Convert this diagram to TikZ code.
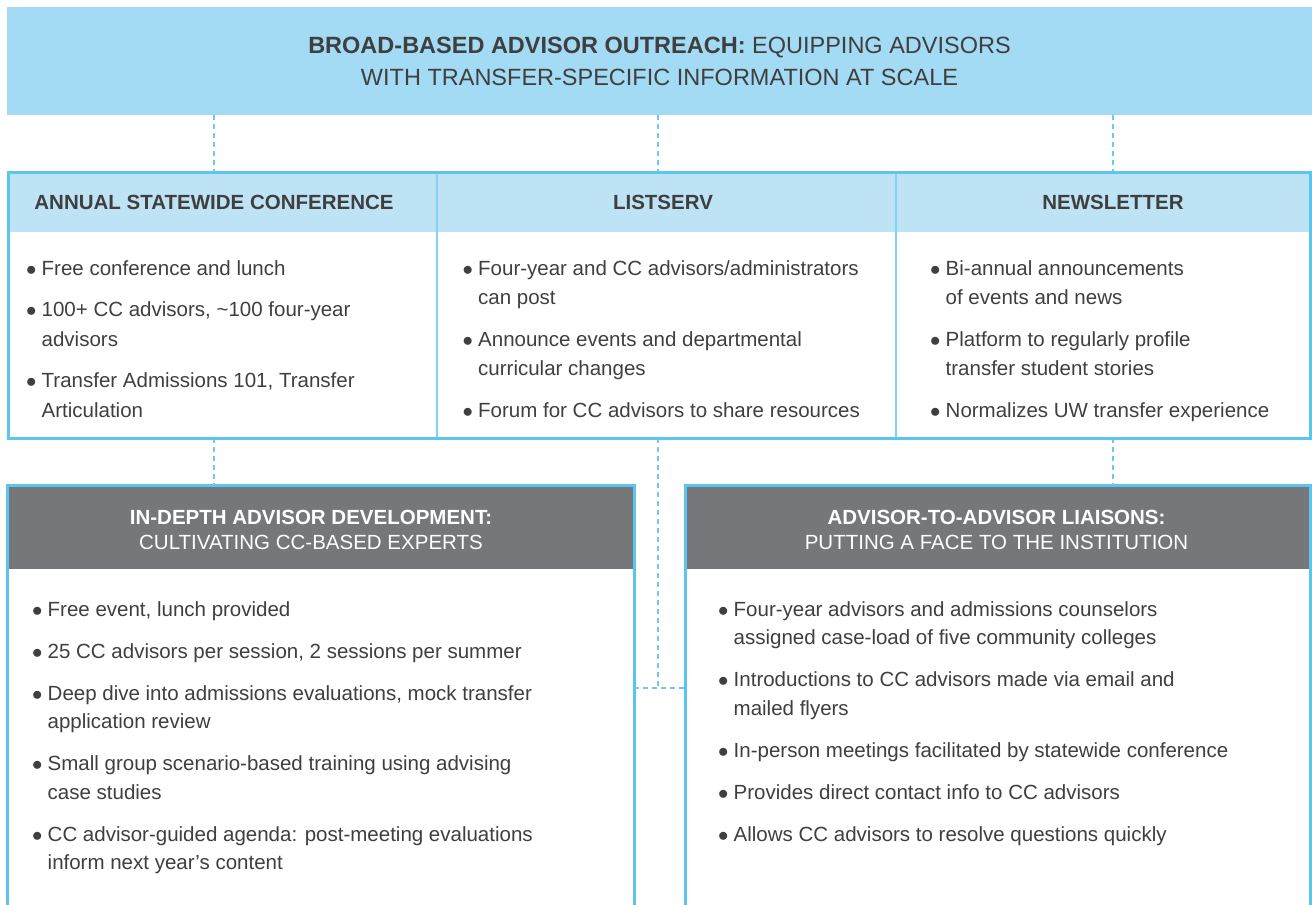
\documentclass[tikz,border=0pt]{standalone}
\usepackage{fontspec}
\setmainfont{Liberation Sans}
\usepackage{tikz}
\usetikzlibrary{positioning, calc}

\definecolor{bannerblue}{HTML}{A3DAF4}
\definecolor{headblue}{HTML}{BDE3F5}
\definecolor{edgeblue}{HTML}{5CC5EE}
\definecolor{linkblue}{HTML}{6DC9EF}
\definecolor{bargray}{HTML}{76777A}
\definecolor{inkgray}{HTML}{3F3F40}

\tikzstyle{banner} = [rectangle, fill=bannerblue, minimum width=1305pt, minimum height=108pt, inner sep=0pt, text=inkgray, align=center, font=\fontsize{23.5}{32}\selectfont]
\tikzstyle{colcell} = [rectangle, minimum height=266pt, inner sep=0pt, outer sep=0pt]
\tikzstyle{headcell} = [rectangle, fill=headblue, minimum height=60pt, inner sep=0pt, outer sep=0pt]
\tikzstyle{colhead} = [text=inkgray, inner sep=0pt, font=\fontsize{20.5}{24}\selectfont\bfseries]
\tikzstyle{panel} = [rectangle, draw=edgeblue, line width=3pt, fill=white, minimum height=450pt, inner sep=0pt, outer sep=0pt]
\tikzstyle{barcell} = [rectangle, fill=bargray, minimum height=82pt, inner sep=0pt, outer sep=0pt]
\tikzstyle{bartitle} = [text=white, align=center, inner sep=0pt, font=\fontsize{20.5}{25}\selectfont]
\tikzstyle{bullets} = [text=inkgray, align=left, inner sep=0pt, anchor=north west, font=\fontsize{20.5}{29.5}\selectfont]
\tikzstyle{lowbullets} = [bullets, font=\fontsize{20.5}{28.5}\selectfont]
\tikzstyle{divider} = [draw=edgeblue!75, line width=1.5pt]
\tikzstyle{edgeframe} = [draw=edgeblue, line width=3pt]
\tikzstyle{link} = [draw=linkblue, line width=1.5pt, dash pattern=on 5pt off 4pt]

\newcommand{\bul}{\makebox[15.5pt][l]{$\bullet$}}
\newcommand{\cont}{\hspace*{15.5pt}}

\begin{document}
\begin{tikzpicture}[x=1pt, y=1pt]
		\clip (0,0) rectangle (1312,-905);
		
		\node (banner) [banner] at (659.5,-61) {\textbf{BROAD-BASED ADVISOR OUTREACH:} EQUIPPING ADVISORS\\WITH TRANSFER-SPECIFIC INFORMATION AT SCALE};
		
		% outreach channels
		\node (confcol) [colcell, minimum width=429pt] at (222.5,-305) {};
		\node (listcol) [colcell, minimum width=459pt, right = 0pt of confcol] {};
		\node (newscol) [colcell, minimum width=414pt, right = 0pt of listcol] {};
		\node (confhead) [headcell, minimum width=429pt, below = 0pt of confcol.north] {};
		\node (listhead) [headcell, minimum width=459pt, below = 0pt of listcol.north] {};
		\node (newshead) [headcell, minimum width=414pt, below = 0pt of newscol.north] {};
		
		% lower panels
		\node (devbox) [panel, minimum width=627pt] at (320.5,-710) {};
		\node (liaisonbox) [panel, minimum width=625pt] at (997.5,-710) {};
		\node (devhead) [barcell, minimum width=624pt, below = 1.5pt of devbox.north] {};
		\node (liaisonhead) [barcell, minimum width=622pt, below = 1.5pt of liaisonbox.north] {};
		
		\node (conftitle) [colhead] at (214,-202) {ANNUAL STATEWIDE CONFERENCE};
		\node (listtitle) [colhead] at (663,-202) {LISTSERV};
		\node (newstitle) [colhead] at (1113,-202) {NEWSLETTER};
		\node (devtitle) [bartitle] at (311,-530) {\textbf{IN-DEPTH ADVISOR DEVELOPMENT:}\\CULTIVATING CC-BASED EXPERTS};
		\node (liaisontitle) [bartitle] at (996.5,-530) {\textbf{ADVISOR-TO-ADVISOR LIAISONS:}\\PUTTING A FACE TO THE INSTITUTION};
		
		\node (confitems) [bullets] at (26,-260) {\bul Free conference and lunch\\[12pt]\bul 100+ CC advisors, \textasciitilde100 four-year\\\cont advisors\\[12pt]\bul Transfer Admissions 101, Transfer\\\cont Articulation};
		\node (listitems) [bullets] at (462.5,-260) {\bul Four-year and CC advisors/administrators\\\cont can post\\[12pt]\bul Announce events and departmental\\\cont curricular changes\\[12pt]\bul Forum for CC advisors to share resources};
		\node (newsitems) [bullets] at (930,-260) {\bul Bi-annual announcements\\\cont of events and news\\[12pt]\bul Platform to regularly profile\\\cont transfer student stories\\[12pt]\bul Normalizes UW transfer experience};
		\node (devitems) [lowbullets] at (32,-601) {\bul Free event, lunch provided\\[13.5pt]\bul 25 CC advisors per session, 2 sessions per summer\\[13.5pt]\bul Deep dive into admissions evaluations, mock transfer\\\cont application review\\[13.5pt]\bul Small group scenario-based training using advising\\\cont case studies\\[13.5pt]\bul CC advisor-guided agenda: post-meeting evaluations\\\cont inform next year’s content};
		\node (liaisonitems) [lowbullets] at (718,-601) {\bul Four-year advisors and admissions counselors\\\cont assigned case-load of five community colleges\\[13.5pt]\bul Introductions to CC advisors made via email and\\\cont mailed flyers\\[13.5pt]\bul In-person meetings facilitated by statewide conference\\[13.5pt]\bul Provides direct contact info to CC advisors\\[13.5pt]\bul Allows CC advisors to resolve questions quickly};
		
		\coordinate (hub) at (658,-688);
		\draw [link] (conftitle |- banner.south) -- (conftitle |- confcol.north);
		\draw [link] (hub |- banner.south) -- (hub |- listcol.north);
		\draw [link] (newstitle |- banner.south) -- (newstitle |- newscol.north);
		\draw [link] (conftitle |- confcol.south) -- (conftitle |- devbox.north);
		\draw [link] (newstitle |- newscol.south) -- (newstitle |- liaisonbox.north);
		\draw [link] (hub |- listcol.south) -- (hub);
		\draw [link] (devbox.east |- hub) -- (liaisonbox.west |- hub);
		
		\draw [divider] (confcol.north east) -- (confcol.south east);
		\draw [divider] (listcol.north east) -- (listcol.south east);
		\draw [edgeframe] (confcol.north west) rectangle (newscol.south east);
		
\end{tikzpicture}
\end{document}
